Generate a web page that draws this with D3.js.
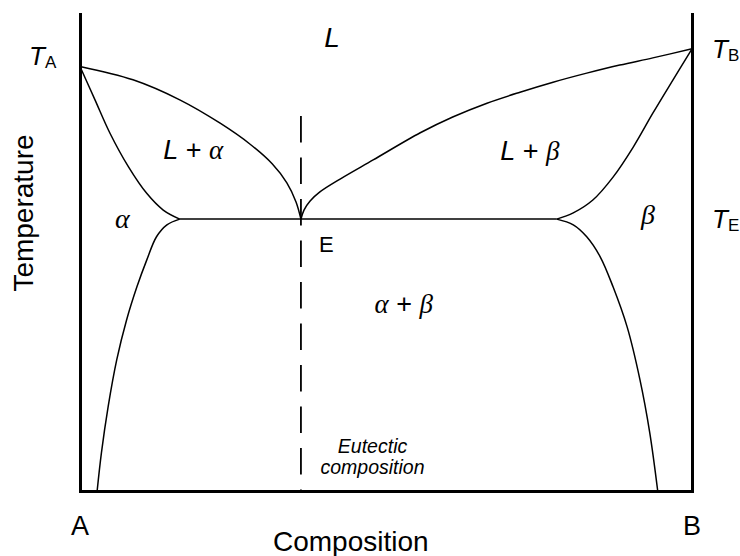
<!DOCTYPE html>
<html>
<head>
<meta charset="utf-8">
<script src="https://cdn.jsdelivr.net/npm/d3@7"></script>
<style>
  html, body { margin: 0; padding: 0; background: #fff; }
  svg { display: block; }
  .sans { font-family: "Liberation Sans", Arial, sans-serif; }
  .greek { font-family: "Liberation Serif", "Times New Roman", serif; font-style: italic; }
</style>
</head>
<body>
<svg id="chart" width="740" height="556"></svg>
<script>
// ---- data (composition % B, temperature in relative units 0..100) ----
const compDomain = [0, 100];
const tempDomain = [0, 100];
const endLabels = ["A", "B"];
const axisTitles = ["Composition", "Temperature"];
const tempNames = ["A", "B", "E"];
const meltA = 89.0;          // T_A
const meltB = 92.7;          // T_B
const eutecticT = 57.0;      // T_E
const eutecticComp = 36.1;   // E
const alphaMax = 16.3;       // max solubility of B in alpha
const betaMin = 77.9;        // max solubility of A in beta
const dashedTop = 78.6;

const liquidusA = [[0, 89.0], [8.66, 86.2], [16.3, 82.0], [22.9, 77.1], [27.8, 72.7], [31.4, 68.6], [33.8, 64.6], [35.3, 60.6], [36.1, 57.0]];
const solidusA = [[0, 89.0], [2.45, 82.0], [4.9, 75.0], [7.9, 68.0], [10.9, 62.4], [13.6, 58.9], [16.3, 57.0]];
const solvusA = [[16.3, 57.0], [14.2, 55.8], [12.5, 53.3], [10.9, 48.4], [9.3, 42.8], [7.6, 35.8], [6.0, 27.5], [4.6, 17.7], [3.5, 8.0], [2.8, 0]];
const liquidusB = [[36.1, 57.0], [36.6, 58.9], [37.6, 60.8], [39.2, 62.7], [42.5, 65.4], [47.9, 69.4], [55.6, 75.1], [60.9, 78.4], [66.5, 81.3], [71.9, 83.6], [77.3, 85.7], [82.8, 87.6], [88.2, 89.3], [93.6, 90.8], [100, 92.7]];
const solidusB = [[77.9, 57.0], [80.6, 58.3], [83.8, 61.0], [87.1, 65.8], [90.4, 72.1], [93.6, 79.2], [96.9, 86.2], [100, 92.7]];
const solvusB = [[77.9, 57.0], [80.6, 55.8], [82.8, 53.3], [85.0, 49.1], [87.1, 42.8], [89.4, 34.4], [91.5, 23.3], [93.1, 12.2], [94.4, 0]];

// ---- drawing ----
const svg = d3.select("#chart");
const x = d3.scaleLinear().domain(compDomain).range([80, 692]);
const y = d3.scaleLinear().domain(tempDomain).range([491, 14]);

// frame via d3 axes (no ticks)
function frame(axis, tx, ty) {
  const g = svg.append("g").attr("transform", `translate(${tx},${ty})`).call(axis);
  g.selectAll(".domain").attr("stroke", "#000").attr("stroke-width", 3).attr("stroke-linecap", "square");
  return g;
}
frame(d3.axisLeft(y).tickValues([]).tickSizeOuter(0), x(0), 0);
frame(d3.axisRight(y).tickValues([]).tickSizeOuter(0), x(100), 0);
frame(d3.axisBottom(x).tickValues([]).tickSizeOuter(0), 0, y(0));

const line = d3.line().x(d => x(d[0])).y(d => y(d[1])).curve(d3.curveCatmullRom.alpha(0.5));
const curves = [liquidusA, solidusA, solvusA, liquidusB, solidusB, solvusB];
svg.append("g").selectAll("path").data(curves).join("path")
  .attr("d", line)
  .attr("fill", "none")
  .attr("stroke", "#000")
  .attr("stroke-width", 1.5);

// eutectic isotherm
svg.append("line")
  .attr("x1", x(alphaMax)).attr("x2", x(betaMin))
  .attr("y1", y(eutecticT)).attr("y2", y(eutecticT))
  .attr("stroke", "#000").attr("stroke-width", 1.5);

// eutectic composition dashed line
svg.append("line")
  .attr("x1", x(eutecticComp)).attr("x2", x(eutecticComp))
  .attr("y1", y(dashedTop)).attr("y2", y(0))
  .attr("stroke", "#000").attr("stroke-width", 1.8)
  .attr("stroke-dasharray", "26.5,15");

// ---- text ----
function mixed(cx, cyv, parts, size) {
  const t = svg.append("text").attr("x", x(cx)).attr("y", y(cyv))
    .attr("text-anchor", "middle").attr("font-size", size);
  parts.forEach(p => {
    const s = t.append("tspan").text(p[0]);
    if (p[1] === "g") s.attr("class", "greek");
    else if (p[1] === "i") s.attr("class", "sans").attr("font-style", "italic");
    else s.attr("class", "sans");
  });
  return t;
}
mixed(41.2, 93.1, [["L", "i"]], 28);
mixed(18.5, 69.6, [["L", "i"], [" + ", "n"], ["α", "g"]], 27);
mixed(73.5, 69.4, [["L", "i"], [" + ", "n"], ["β", "g"]], 27);
mixed(6.9, 55.1, [["α", "g"]], 28);
mixed(92.8, 56.0, [["β", "g"]], 28);
mixed(52.9, 37.3, [["α", "g"], [" + ", "n"], ["β", "g"]], 27);

svg.append("text").attr("class", "sans").attr("x", x(39.05)).attr("y", y(50.2))
  .attr("font-size", 22).text("E");

svg.append("text").attr("class", "sans").attr("font-style", "italic")
  .attr("text-anchor", "middle").attr("font-size", 19.5)
  .attr("x", x(47.8)).attr("y", y(8.0)).text("Eutectic");
svg.append("text").attr("class", "sans").attr("font-style", "italic")
  .attr("text-anchor", "middle").attr("font-size", 19.5)
  .attr("x", x(47.8)).attr("y", y(3.6)).text("composition");

// T labels
function tLabel(px, py, sub) {
  const t = svg.append("text").attr("class", "sans").attr("x", px).attr("y", py).attr("font-size", 26);
  t.append("tspan").attr("font-style", "italic").text("T");
  t.append("tspan").attr("font-size", 17).attr("dy", 3).text(sub);
}
tLabel(x(0) - 51, y(meltA) - 1, tempNames[0]);
tLabel(x(100) + 20, y(meltB) + 9, tempNames[1]);
tLabel(x(100) + 20, y(eutecticT) + 9, tempNames[2]);

// end labels and axis titles
svg.append("g").selectAll("text").data(endLabels).join("text")
  .attr("class", "sans").attr("text-anchor", "middle").attr("font-size", 27)
  .attr("x", (d, i) => x(compDomain[i])).attr("y", 535).text(d => d);

svg.append("text").attr("class", "sans").attr("font-size", 28)
  .attr("x", 273).attr("y", 551).text(axisTitles[0]);
svg.append("text").attr("class", "sans").attr("font-size", 28)
  .attr("text-anchor", "middle")
  .attr("transform", "translate(33,213) rotate(-90)").text(axisTitles[1]);
</script>
</body>
</html>
